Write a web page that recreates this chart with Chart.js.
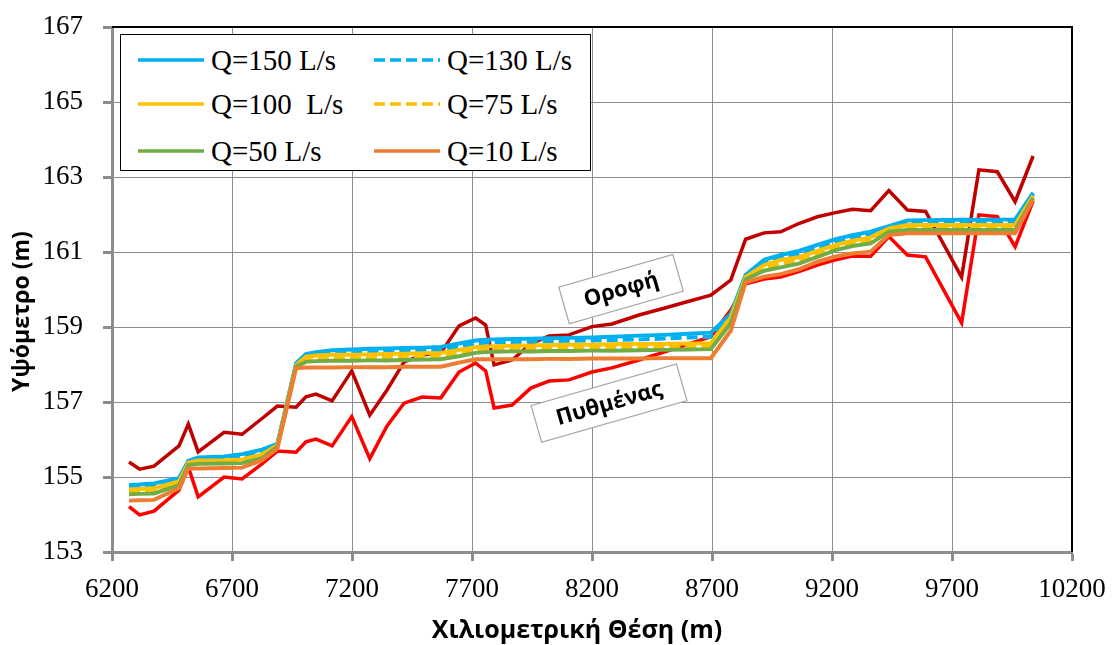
<!DOCTYPE html>
<html>
<head>
<meta charset="utf-8">
<title>Υψόμετρο</title>
<script src="https://cdn.jsdelivr.net/npm/chart.js@4.4.0/dist/chart.umd.min.js"></script>
<style>
  body { margin: 0; background: #fff; }
  #wrap { position: relative; width: 1113px; height: 645px; }
  #legend {
    position: absolute; left: 120px; top: 34px; width: 469px; height: 135px;
    border: 1.5px solid #000; background: #fff;
    font-family: "Liberation Serif", "Times New Roman", serif; font-size: 29px; color: #000;
  }
  #legend .item { position: absolute; display: flex; align-items: center; height: 34px; white-space: pre; }
  #legend svg { margin-right: 7px; }
</style>
</head>
<body>
<div id="wrap">
  <canvas id="chart" width="1113" height="645"></canvas>
  <div id="legend"></div>
</div>
<script>
// cross-section stations (m)
var stations = [6271, 6315, 6375, 6479, 6518, 6559, 6667, 6742, 6825, 6889,
  6967, 7008, 7050, 7117, 7199, 7274, 7346, 7417, 7492, 7570,
  7646, 7715, 7757, 7792, 7867, 7945, 8021, 8104, 8200, 8283,
  8396, 8500, 8600, 8695, 8778, 8840, 8917, 8986, 9062, 9139,
  9215, 9285, 9361, 9437, 9514, 9590, 9740, 9812, 9889, 9963, 10038];

// Οροφή (roof)
var roof = [155.40, 155.21, 155.29, 155.83, 156.41, 155.67, 156.19, 156.14, 156.56, 156.89,
  156.86, 157.14, 157.21, 157.03, 157.83, 156.65, 157.32, 158.07, 158.25, 158.31,
  159.03, 159.24, 159.05, 157.99, 158.12, 158.55, 158.76, 158.79, 159.01, 159.08,
  159.32, 159.50, 159.68, 159.85, 160.25, 161.34, 161.51, 161.54, 161.76, 161.94,
  162.05, 162.14, 162.10, 162.64, 162.12, 162.08, 160.33, 163.19, 163.14, 162.34, 163.56];

// Πυθμένας (bed)
var bed = [154.21, 153.99, 154.09, 154.65, 155.27, 154.47, 155.00, 154.95, 155.35, 155.69,
  155.66, 155.94, 156.01, 155.83, 156.61, 155.49, 156.36, 156.97, 157.13, 157.11,
  157.80, 158.04, 157.83, 156.84, 156.92, 157.37, 157.56, 157.59, 157.80, 157.91,
  158.12, 158.33, 158.54, 158.74, 159.45, 160.15, 160.28, 160.33, 160.48, 160.65,
  160.79, 160.89, 160.89, 161.41, 160.92, 160.87, 159.11, 161.99, 161.94, 161.14, 162.36];

var q150 = [154.79, 154.80, 154.83, 154.97, 155.43, 155.52, 155.55, 155.61, 155.73, 155.88,
  158.03, 158.28, 158.33, 158.38, 158.40, 158.42, 158.43, 158.44, 158.45, 158.47,
  158.56, 158.64, 158.66, 158.67, 158.68, 158.69, 158.70, 158.71, 158.72, 158.74,
  158.77, 158.79, 158.82, 158.85, 159.35, 160.39, 160.79, 160.92, 161.03, 161.19,
  161.34, 161.45, 161.54, 161.69, 161.84, 161.85, 161.86, 161.86, 161.86, 161.87, 162.58];

var q130 = [154.72, 154.73, 154.76, 154.92, 155.40, 155.47, 155.50, 155.54, 155.67, 155.86,
  158.00, 158.24, 158.29, 158.33, 158.34, 158.35, 158.36, 158.37, 158.38, 158.39,
  158.48, 158.56, 158.58, 158.59, 158.60, 158.61, 158.62, 158.63, 158.64, 158.65,
  158.67, 158.69, 158.72, 158.74, 159.30, 160.36, 160.73, 160.86, 160.95, 161.12,
  161.27, 161.38, 161.47, 161.66, 161.78, 161.79, 161.79, 161.79, 161.79, 161.80, 162.54];

var q100 = [154.67, 154.68, 154.70, 154.88, 155.38, 155.44, 155.45, 155.47, 155.60, 155.85,
  157.98, 158.21, 158.24, 158.26, 158.26, 158.27, 158.28, 158.29, 158.30, 158.31,
  158.39, 158.46, 158.48, 158.49, 158.50, 158.51, 158.52, 158.53, 158.53, 158.54,
  158.55, 158.55, 158.56, 158.57, 159.25, 160.33, 160.65, 160.79, 160.86, 161.03,
  161.19, 161.30, 161.39, 161.63, 161.72, 161.72, 161.72, 161.72, 161.72, 161.72, 162.50];

var q75 = [154.60, 154.61, 154.63, 154.82, 155.35, 155.40, 155.41, 155.42, 155.55, 155.83,
  157.96, 158.14, 158.17, 158.18, 158.18, 158.19, 158.19, 158.20, 158.21, 158.22,
  158.30, 158.38, 158.40, 158.41, 158.42, 158.43, 158.44, 158.44, 158.45, 158.45,
  158.46, 158.47, 158.48, 158.49, 159.18, 160.30, 160.57, 160.69, 160.78, 160.95,
  161.12, 161.23, 161.31, 161.58, 161.65, 161.65, 161.65, 161.65, 161.65, 161.65, 162.47];

var q50 = [154.54, 154.55, 154.56, 154.78, 155.32, 155.35, 155.36, 155.37, 155.50, 155.81,
  157.95, 158.07, 158.09, 158.10, 158.10, 158.11, 158.11, 158.12, 158.13, 158.14,
  158.22, 158.31, 158.33, 158.34, 158.35, 158.35, 158.36, 158.36, 158.37, 158.37,
  158.38, 158.39, 158.40, 158.41, 159.10, 160.27, 160.50, 160.59, 160.69, 160.87,
  161.05, 161.16, 161.23, 161.54, 161.59, 161.59, 161.59, 161.59, 161.59, 161.59, 162.44];

var q10 = [154.37, 154.38, 154.39, 154.70, 155.23, 155.23, 155.24, 155.25, 155.45, 155.76,
  157.90, 157.92, 157.92, 157.92, 157.93, 157.93, 157.93, 157.94, 157.94, 157.94,
  158.05, 158.14, 158.14, 158.14, 158.14, 158.14, 158.15, 158.15, 158.16, 158.16,
  158.16, 158.17, 158.17, 158.17, 158.90, 160.19, 160.34, 160.41, 160.54, 160.74,
  160.88, 160.96, 161.01, 161.45, 161.50, 161.50, 161.50, 161.50, 161.50, 161.50, 162.39];

var xTicks = [6200, 6700, 7200, 7700, 8200, 8700, 9200, 9700, 10200];
var yTicks = [153, 155, 157, 159, 161, 163, 165, 167];

// text boxes placed in data units
var notes = [
  { text: 'Οροφή', x: 8321, y: 160.01 },
  { text: 'Πυθμένας', x: 8271, y: 156.97 }
];

function pts(arr) {
  return stations.map(function (s, i) { return { x: s, y: arr[i] }; });
}

var series = [
  { label: 'Q=150 L/s',  data: q150, color: '#00B0F0', dash: [], order: 6, legend: true },
  { label: 'Q=130 L/s',  data: q130, color: '#00B0F0', dash: [11, 5], order: 5, legend: true },
  { label: 'Q=100  L/s', data: q100, color: '#FFC000', dash: [], order: 4, legend: true },
  { label: 'Q=75 L/s',   data: q75,  color: '#FFC000', dash: [11, 5], order: 3, legend: true },
  { label: 'Q=50 L/s',   data: q50,  color: '#70AD47', dash: [], order: 2, legend: true },
  { label: 'Q=10 L/s',   data: q10,  color: '#ED7D31', dash: [], order: 1, legend: true },
  { label: 'Οροφή',      data: roof, color: '#C00000', dash: [], order: 7, legend: false },
  { label: 'Πυθμένας',   data: bed,  color: '#FF0000', dash: [], order: 8, legend: false }
];

var datasets = series.map(function (s) {
  return {
    label: s.label,
    data: pts(s.data),
    showLine: true,
    borderColor: s.color,
    backgroundColor: s.color,
    borderWidth: s.legend ? 4 : 3.5,
    borderDash: s.dash,
    pointRadius: 0,
    tension: 0,
    fill: false,
    order: s.order
  };
});

// html legend, 2 columns x 3 rows
var legendEl = document.getElementById('legend');
var rowTop = [8, 52, 99];
series.filter(function (s) { return s.legend; }).forEach(function (s, i) {
  var item = document.createElement('div');
  item.className = 'item';
  item.style.left = (i % 2 === 0 ? 17 : 253) + 'px';
  item.style.top = rowTop[Math.floor(i / 2)] + 'px';
  item.innerHTML = '<svg width="66" height="8"><line x1="0" y1="4" x2="66" y2="4" stroke="' + s.color +
    '" stroke-width="3.5" stroke-dasharray="' + (s.dash.length ? s.dash.join(',') : 'none') + '"/></svg>' +
    '<span>' + s.label + '</span>';
  legendEl.appendChild(item);
});

var framePlugin = {
  id: 'frame',
  afterDatasetsDraw: function (chart) {
    var ctx = chart.ctx, a = chart.chartArea;
    ctx.save();
    ctx.strokeStyle = '#000';
    ctx.lineWidth = 2;
    ctx.beginPath();
    ctx.moveTo(a.left, a.top);
    ctx.lineTo(a.right, a.top);
    ctx.lineTo(a.right, a.bottom);
    ctx.stroke();

    ctx.font = 'bold 22px "Open Sans", "Noto Sans", sans-serif';
    notes.forEach(function (n) {
      var px = chart.scales.x.getPixelForValue(n.x);
      var py = chart.scales.y.getPixelForValue(n.y);
      var w = ctx.measureText(n.text).width + 42;
      var h = 38;
      ctx.save();
      ctx.translate(px, py);
      ctx.rotate(-16 * Math.PI / 180);
      ctx.fillStyle = '#fff';
      ctx.fillRect(-w / 2, -h / 2, w, h);
      ctx.strokeStyle = '#a6a6a6';
      ctx.lineWidth = 1.2;
      ctx.strokeRect(-w / 2, -h / 2, w, h);
      ctx.fillStyle = '#000';
      ctx.textAlign = 'center';
      ctx.textBaseline = 'middle';
      ctx.fillText(n.text, 0, 1);
      ctx.restore();
    });

    // axis titles (Excel placed them a bit off the plot centre)
    ctx.fillStyle = '#000';
    ctx.textAlign = 'center';
    ctx.textBaseline = 'middle';
    ctx.font = 'bold 25px "Open Sans", "Noto Sans", sans-serif';
    ctx.fillText('Χιλιομετρική Θέση (m)', (a.left + a.right) / 2 - 15, 631);
    ctx.save();
    ctx.translate(22, (a.top + a.bottom) / 2 + 22);
    ctx.rotate(-Math.PI / 2);
    ctx.font = 'bold 23px "Open Sans", "Noto Sans", sans-serif';
    ctx.fillText('Υψόμετρο (m)', 0, 0);
    ctx.restore();
    ctx.restore();
  }
};

var tickFont = { family: '"Liberation Serif", "Times New Roman", serif', size: 27 };

var ctx = document.getElementById('chart').getContext('2d');
var chart = new Chart(ctx, {
  type: 'scatter',
  data: { datasets: datasets },
  plugins: [framePlugin],
  options: {
    responsive: false,
    animation: false,
    devicePixelRatio: 1,
    layout: { padding: { top: 27, right: 41, left: 0, bottom: 0 } },
    plugins: { legend: { display: false }, tooltip: { enabled: false } },
    scales: {
      x: {
        type: 'linear',
        min: xTicks[0],
        max: xTicks[xTicks.length - 1],
        afterBuildTicks: function (s) { s.ticks = xTicks.map(function (v) { return { value: v }; }); },
        afterFit: function (s) { s.height = 93; s.paddingLeft = 0; s.paddingRight = 0; },
        ticks: { font: tickFont, color: '#000', padding: 13, autoSkip: false, maxRotation: 0,
          callback: function (v) { return String(v); } },
        grid: { color: '#8c8c8c', lineWidth: 1, tickColor: '#8c8c8c', tickLength: 9, tickWidth: 3 },
        border: { color: '#8c8c8c', width: 3 }
      },
      y: {
        min: yTicks[0],
        max: yTicks[yTicks.length - 1],
        afterBuildTicks: function (s) { s.ticks = yTicks.map(function (v) { return { value: v }; }); },
        afterFit: function (s) { s.width = 112; s.paddingTop = 0; s.paddingBottom = 0; },
        ticks: { font: tickFont, color: '#000', padding: 20, autoSkip: false,
          callback: function (v) { return String(v); } },
        grid: { color: '#8c8c8c', lineWidth: 1, tickColor: '#8c8c8c', tickLength: 9, tickWidth: 3 },
        border: { color: '#8c8c8c', width: 3 }
      }
    }
  }
});
</script>
</body>
</html>
